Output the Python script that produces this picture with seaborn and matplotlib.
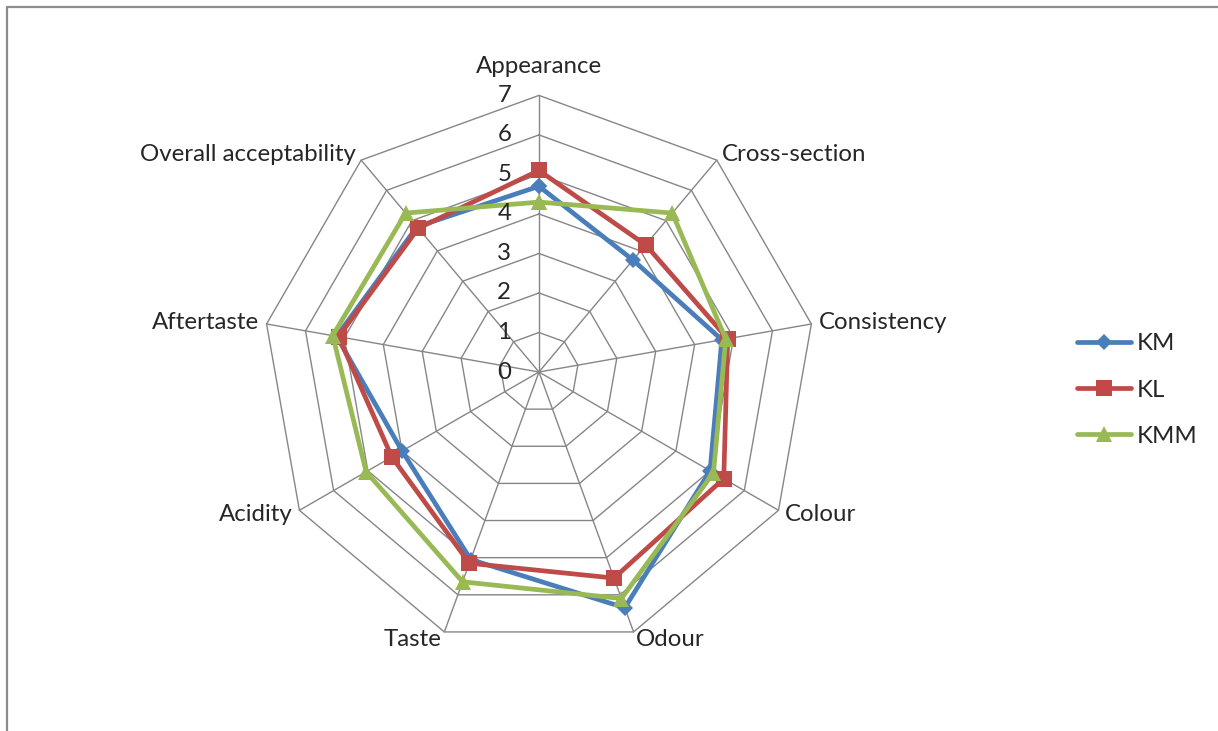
"""
Radar chart: sensory scores of three samples (KM, KL, KMM).

    python plot.py
"""

import matplotlib
matplotlib.use("Agg")

import matplotlib.pyplot as plt
import matplotlib.transforms as mtransforms
from matplotlib.lines import Line2D
import numpy as np
import seaborn as sns

CATEGORIES = ["Appearance", "Cross-section", "Consistency", "Colour", "Odour",
              "Taste", "Acidity", "Aftertaste", "Overall acceptability"]
KM = [4.7, 3.7, 4.7, 5.0, 6.35, 5.05, 4.0, 5.2, 4.8]
KL = [5.1, 4.2, 4.85, 5.4, 5.55, 5.15, 4.3, 5.15, 4.75]
KMM = [4.3, 5.25, 4.8, 5.1, 6.1, 5.65, 5.05, 5.3, 5.25]
LEVELS = [0, 1, 2, 3, 4, 5, 6, 7]

SERIES = [("KM", KM, "#4A7EBB", "D", 8.5),
          ("KL", KL, "#BE4B48", "s", 11),
          ("KMM", KMM, "#98B954", "^", 11)]

sns.set_style("white")
plt.rcParams["font.family"] = ["Lato", "DejaVu Sans"]
plt.rcParams["font.size"] = 17.3

fig = plt.figure(figsize=(12.18, 7.31), dpi=100)
ax = fig.add_axes([0.2154, 0.1127, 0.4542, 0.7568], projection="polar")
ax.set_theta_zero_location("N")
ax.set_theta_direction(-1)

n = len(CATEGORIES)
theta = np.linspace(0, 2 * np.pi, n, endpoint=False)
theta_closed = np.append(theta, 2 * np.pi)

# --- polygonal grid, Excel style ---------------------------------------------
grid_kw = dict(color="#868686", lw=1.0, zorder=1, clip_on=False)
for lvl in LEVELS[1:]:
    ax.plot(theta_closed, [lvl] * (n + 1), **grid_kw)
for t in theta:
    ax.plot([t, t], [0, LEVELS[-1]], **grid_kw)

# --- series -------------------------------------------------------------------
for name, vals, color, marker, size in SERIES:
    sns.lineplot(x=theta_closed, y=vals + vals[:1], color=color, lw=3.4,
                 marker=marker, markersize=size, markeredgewidth=0,
                 sort=False, estimator=None, label=name, ax=ax, zorder=3,
                 clip_on=False)

ax.set_ylim(0, LEVELS[-1])
ax.grid(False)
ax.spines["polar"].set_visible(False)
ax.set_xticks([])
ax.set_yticks([])
ax.set_xlabel("")
ax.set_ylabel("")

# radial value labels next to the top spoke
off = mtransforms.offset_copy(ax.transData, fig=fig, x=-20, y=0, units="points")
for lvl in LEVELS:
    ax.text(0, lvl, str(lvl), transform=off, ha="right", va="center")

# category labels
for t, cat in zip(theta, CATEGORIES):
    s = np.sin(t)
    if abs(s) < 1e-6:
        ax.text(t, 7.72, cat, ha="center", va="center")
    else:
        ax.text(t, 7.2, cat, ha="left" if s > 0 else "right", va="center")

ax.legend(loc="center left", bbox_to_anchor=(1077 / 1218, 341 / 731),
          bbox_transform=fig.transFigure, frameon=False, borderpad=0,
          borderaxespad=0, labelspacing=1.05, handlelength=2.25,
          handletextpad=0.25)

# outer chart frame (only top and left edges fall inside the picture)
x0, y0 = 7 / 1218, 1 - 7 / 731
fig.add_artist(Line2D([x0, 1.05], [y0, y0], transform=fig.transFigure,
                      color="#8c8c8c", lw=1.6))
fig.add_artist(Line2D([x0, x0], [-0.05, y0], transform=fig.transFigure,
                      color="#8c8c8c", lw=1.6))

fig.savefig("out.png", dpi=100)
